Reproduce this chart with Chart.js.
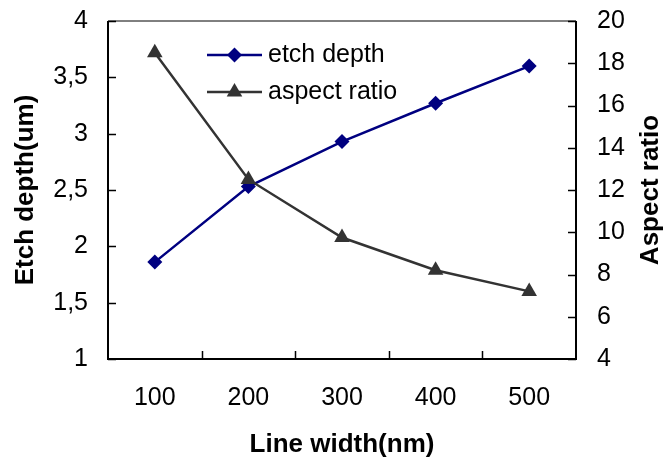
<!DOCTYPE html>
<html lang="en">
<head>
<meta charset="UTF-8">
<title>Etch depth vs line width</title>
<script src="https://cdn.jsdelivr.net/npm/chart.js@4.4.0/dist/chart.umd.min.js"></script>
<style>
    body { margin: 0; background: #fff; }
    #wrap { width: 663px; height: 460px; }
</style>
</head>
<body>
<div id="wrap"><canvas id="etchChart" width="663" height="460"></canvas></div>
<script>
    // values
    const lineWidths = ['100', '200', '300', '400', '500'];
    const etchDepth = [1.86, 2.53, 2.93, 3.27, 3.60];
    const aspectRatio = [18.5, 12.5, 9.75, 8.2, 7.2];
    const depthTicks = [1, 1.5, 2, 2.5, 3, 3.5, 4];
    const ratioTicks = [4, 6, 8, 10, 12, 14, 16, 18, 20];

    const FONT = '"Liberation Sans", Arial, sans-serif';
    const NAVY = '#000080';
    const GREY = '#333333';

    function drawDiamond(ctx, x, y, r) {
        ctx.beginPath();
        ctx.moveTo(x - r, y);
        ctx.lineTo(x, y - r);
        ctx.lineTo(x + r, y);
        ctx.lineTo(x, y + r);
        ctx.closePath();
        ctx.fill();
    }

    function drawTriangle(ctx, x, y, r) {
        ctx.beginPath();
        ctx.moveTo(x, y - r);
        ctx.lineTo(x + r * 0.866, y + r * 0.5);
        ctx.lineTo(x - r * 0.866, y + r * 0.5);
        ctx.closePath();
        ctx.fill();
    }

    // box round the plot with inward tick marks
    const framePlugin = {
        id: 'frame',
        beforeDatasetsDraw(chart) {
            const {ctx, chartArea: a, scales} = chart;
            ctx.save();
            ctx.strokeStyle = '#000';
            ctx.lineWidth = 1;
            ctx.beginPath();
            ctx.moveTo(a.left, a.top);
            ctx.lineTo(a.right, a.top);
            ctx.stroke();
            ctx.lineWidth = 2;
            ctx.beginPath();
            ctx.moveTo(a.left, a.top);
            ctx.lineTo(a.left, a.bottom);
            ctx.lineTo(a.right, a.bottom);
            ctx.lineTo(a.right, a.top);
            ctx.stroke();

            ctx.lineWidth = 1.5;
            ctx.beginPath();
            depthTicks.forEach(v => {
                const y = Math.round(scales.y.getPixelForValue(v)) + 0.5;
                ctx.moveTo(a.left, y);
                ctx.lineTo(a.left + 8, y);
            });
            ratioTicks.forEach(v => {
                const y = Math.round(scales.y1.getPixelForValue(v)) + 0.5;
                ctx.moveTo(a.right - 8, y);
                ctx.lineTo(a.right, y);
            });
            for (let i = 1; i < lineWidths.length; i++) {
                const x = Math.round((scales.x.getPixelForValue(i - 1) + scales.x.getPixelForValue(i)) / 2) + 0.5;
                ctx.moveTo(x, a.bottom);
                ctx.lineTo(x, a.bottom - 8);
            }
            ctx.stroke();
            ctx.restore();
        },
        afterDraw(chart) {
            const {ctx, chartArea: a} = chart;
            ctx.save();
            // right axis title, reading upwards
            ctx.fillStyle = '#000';
            ctx.font = 'bold 26px ' + FONT;
            ctx.textAlign = 'center';
            ctx.textBaseline = 'middle';
            ctx.translate(651, (a.top + a.bottom) / 2);
            ctx.rotate(-Math.PI / 2);
            ctx.fillText('Aspect ratio', 0, 0);
            ctx.restore();

            // legend inside the plot
            ctx.save();
            const x0 = a.left + 99, x1 = x0 + 55, mid = (x0 + x1) / 2;
            const rows = [
                {label: 'etch depth', color: NAVY, y: a.top + 34, mark: 'diamond'},
                {label: 'aspect ratio', color: GREY, y: a.top + 71, mark: 'triangle'}
            ];
            rows.forEach(r => {
                ctx.strokeStyle = r.color;
                ctx.fillStyle = r.color;
                ctx.lineWidth = 2.5;
                ctx.beginPath();
                ctx.moveTo(x0, r.y);
                ctx.lineTo(x1, r.y);
                ctx.stroke();
                if (r.mark === 'diamond') drawDiamond(ctx, mid, r.y, 7.5);
                else drawTriangle(ctx, mid, r.y, 9);
                ctx.fillStyle = '#000';
                ctx.font = '25px ' + FONT;
                ctx.textAlign = 'left';
                ctx.textBaseline = 'middle';
                ctx.fillText(r.label, x1 + 6, r.y);
            });
            ctx.restore();
        }
    };

    const tickFont = {family: FONT, size: 25};
    const titleFont = {family: FONT, size: 26, weight: 'bold'};

    function fitY(width) {
        return s => {
            s.width = width;
            s.paddingTop = 0;
            s.paddingBottom = 0;
        };
    }

    const ctx = document.getElementById('etchChart').getContext('2d');
    const etchChart = new Chart(ctx, {
        type: 'line',
        data: {
            labels: lineWidths,
            datasets: [
                {
                    label: 'etch depth',
                    data: etchDepth,
                    yAxisID: 'y',
                    borderColor: NAVY,
                    backgroundColor: NAVY,
                    borderWidth: 2.5,
                    pointStyle: 'rectRot',
                    pointRadius: 7.5,
                    pointBorderWidth: 0,
                    order: 1
                },
                {
                    label: 'aspect ratio',
                    data: aspectRatio,
                    yAxisID: 'y1',
                    borderColor: GREY,
                    backgroundColor: GREY,
                    borderWidth: 2.5,
                    pointStyle: 'triangle',
                    pointRadius: 9,
                    pointBorderWidth: 0,
                    order: 0
                }
            ]
        },
        options: {
            responsive: false,
            animation: false,
            layout: {padding: {top: 21, left: 0, right: 0, bottom: 0}},
            plugins: {
                legend: {display: false},
                tooltip: {enabled: false}
            },
            scales: {
                x: {
                    type: 'category',
                    offset: true,
                    grid: {display: false, drawTicks: false},
                    border: {display: false},
                    ticks: {font: tickFont, color: '#000', padding: 24, maxRotation: 0},
                    title: {display: true, text: 'Line width(nm)', font: titleFont, color: '#000', padding: {top: 0, bottom: 0}},
                    afterFit: s => { s.height = 101; s.paddingLeft = 0; s.paddingRight = 0; }
                },
                y: {
                    position: 'left',
                    min: 1,
                    max: 4,
                    grid: {display: false, drawTicks: false},
                    border: {display: false},
                    afterBuildTicks: s => { s.ticks = depthTicks.map(v => ({value: v})); },
                    ticks: {
                        font: tickFont, color: '#000', padding: 20,
                        callback: v => String(v).replace('.', ',')
                    },
                    title: {display: true, text: 'Etch depth(um)', font: titleFont, color: '#000', padding: {top: 10, bottom: 0}},
                    afterFit: fitY(108)
                },
                y1: {
                    position: 'right',
                    min: 4,
                    max: 20,
                    grid: {display: false, drawTicks: false},
                    border: {display: false},
                    afterBuildTicks: s => { s.ticks = ratioTicks.map(v => ({value: v})); },
                    ticks: {font: tickFont, color: '#000', padding: 21},
                    afterFit: fitY(87)
                }
            }
        },
        plugins: [framePlugin]
    });
</script>
</body>
</html>
